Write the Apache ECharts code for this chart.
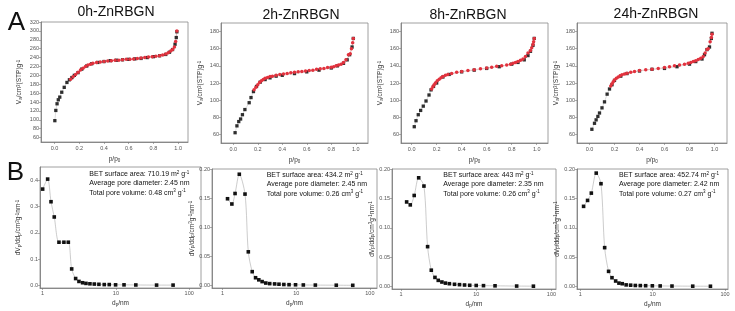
<!DOCTYPE html>
<html>
<head>
<meta charset="utf-8">
<script src="https://cdn.jsdelivr.net/npm/echarts@6/dist/echarts.min.js"></script>
<style>
  html, body { margin: 0; padding: 0; background: #fff; }
  #chart { width: 735px; height: 311px; }
</style>
</head>
<body>
<div id="chart"></div>
<script>
// sample names
const titles = ['0h-ZnRBGN', '2h-ZnRBGN', '8h-ZnRBGN', '24h-ZnRBGN'];

// N2 isotherms: adsorption (black) / desorption (red)
const ads0hP = [0.002, 0.01, 0.02, 0.03, 0.042, 0.058, 0.078, 0.1, 0.12, 0.14, 0.16, 0.19, 0.22, 0.26, 0.3, 0.35, 0.4, 0.45, 0.5, 0.55, 0.6, 0.65, 0.7, 0.75, 0.8, 0.85, 0.9, 0.93, 0.955, 0.975, 0.985, 0.99];
const ads0hV = [98, 121, 136, 145, 151, 162, 173, 184, 190, 195, 200, 206, 214, 221, 226, 229, 231, 233, 234, 235, 236, 237, 238, 240, 242, 244, 247, 252, 258, 270, 285, 298];
const des0hP = [0.99, 0.98, 0.97, 0.955, 0.94, 0.92, 0.9, 0.875, 0.85, 0.82, 0.79, 0.76, 0.73, 0.7, 0.67, 0.64, 0.61, 0.58, 0.55, 0.52, 0.49, 0.46, 0.43, 0.4, 0.37, 0.34, 0.31, 0.29, 0.27, 0.25, 0.23, 0.21, 0.19, 0.17, 0.15, 0.13];
const des0hV = [300, 276, 264, 258, 255, 251, 248, 246, 244, 243, 242, 241, 240, 239, 238, 237, 236, 236, 235, 234, 234, 233, 232, 231, 230, 229, 227, 225, 223, 220, 216, 212, 207, 202, 197, 191];

const ads2hP = [0.015, 0.03, 0.045, 0.06, 0.075, 0.095, 0.13, 0.145, 0.165, 0.19, 0.22, 0.26, 0.3, 0.35, 0.4, 0.5, 0.6, 0.7, 0.8, 0.85, 0.9, 0.93, 0.95, 0.97, 0.98];
const ads2hV = [62, 70, 75, 78, 83, 89, 97, 103, 110, 116, 121, 124, 126, 128, 129, 131, 133, 135, 137.5, 140, 143, 147, 153, 162, 172];
const des2hP = [0.98, 0.975, 0.965, 0.955, 0.94, 0.92, 0.9, 0.88, 0.86, 0.84, 0.82, 0.8, 0.77, 0.74, 0.71, 0.68, 0.65, 0.62, 0.59, 0.56, 0.53, 0.5, 0.47, 0.44, 0.41, 0.38, 0.35, 0.32, 0.3, 0.28, 0.26, 0.245, 0.23, 0.215, 0.2, 0.185, 0.17];
const des2hV = [172, 167, 160, 154, 153, 147, 144, 142, 141, 140, 139, 138.5, 138, 137, 136.5, 136, 135, 134.5, 134, 133.5, 133, 132.5, 132, 131, 130.5, 130, 129, 128, 127.5, 126.5, 125.5, 124, 122.5, 120.5, 118, 115, 112];

const ads8hP = [0.021, 0.035, 0.053, 0.072, 0.093, 0.115, 0.139, 0.155, 0.175, 0.2, 0.25, 0.3, 0.4, 0.5, 0.6, 0.7, 0.8, 0.85, 0.9, 0.93, 0.95, 0.97, 0.98];
const ads8hV = [69, 76, 83, 88, 93, 99, 106, 112, 116, 120, 127, 130, 133, 135, 137, 139, 142, 144, 147, 152, 157, 164, 172];
const des8hP = [0.98, 0.975, 0.97, 0.96, 0.95, 0.93, 0.91, 0.89, 0.87, 0.85, 0.83, 0.81, 0.79, 0.76, 0.72, 0.68, 0.64, 0.6, 0.55, 0.5, 0.45, 0.4, 0.36, 0.32, 0.29, 0.27, 0.25, 0.235, 0.22, 0.205, 0.19, 0.18, 0.17, 0.16];
const des8hV = [172, 168, 165, 161, 158, 155, 151, 148, 146.5, 145, 144, 143, 142, 141, 140, 139.5, 138.5, 137.5, 136.5, 135.5, 134.5, 133.5, 132.5, 131, 130, 129, 127.5, 126, 124.5, 122.5, 120, 118, 115.5, 113];

const ads24hP = [0.019, 0.04, 0.053, 0.067, 0.08, 0.1, 0.12, 0.141, 0.16, 0.18, 0.2, 0.25, 0.3, 0.4, 0.5, 0.6, 0.7, 0.8, 0.85, 0.9, 0.92, 0.94, 0.96, 0.975, 0.98];
const ads24hV = [66, 73, 77, 81, 85, 91, 98, 107, 113, 118, 123, 128, 131, 134, 136, 137, 139, 142, 145, 148, 153, 159, 162, 172, 178];
const des24hP = [0.98, 0.975, 0.965, 0.95, 0.94, 0.925, 0.91, 0.89, 0.87, 0.85, 0.83, 0.81, 0.79, 0.76, 0.72, 0.68, 0.64, 0.6, 0.55, 0.5, 0.45, 0.4, 0.36, 0.33, 0.3, 0.28, 0.26, 0.245, 0.23, 0.215, 0.2, 0.19, 0.18, 0.17];
const des24hV = [177, 173, 168, 160, 159, 155, 151, 149, 147.5, 146, 145, 144, 143, 142, 141, 140, 139, 138, 137, 136, 135.5, 134.5, 133.5, 132.5, 131.5, 130.5, 129.5, 128.5, 127, 125.5, 123.5, 121.5, 119, 116.5];

// pore size distributions
const d0h = [1.0, 1.17, 1.3, 1.44, 1.67, 1.95, 2.24, 2.49, 2.82, 3.13, 3.51, 3.9, 4.42, 5.07, 5.86, 6.93, 8.11, 9.9, 12.9, 18.7, 35.9, 60.3];
const dv0h = [0.366, 0.404, 0.318, 0.26, 0.164, 0.164, 0.164, 0.0625, 0.026, 0.015, 0.01, 0.0075, 0.006, 0.005, 0.004, 0.003, 0.003, 0.002, 0.002, 0.0015, 0.001, 0.001];
const d2h = [1.17, 1.34, 1.48, 1.69, 2.02, 2.24, 2.53, 2.81, 3.11, 3.45, 3.87, 4.37, 5.1, 5.84, 6.8, 8.0, 9.8, 12.5, 18.2, 35, 58.6];
const dv2h = [0.149, 0.14, 0.158, 0.191, 0.157, 0.058, 0.024, 0.0136, 0.01, 0.007, 0.0045, 0.0035, 0.003, 0.0025, 0.002, 0.0017, 0.0015, 0.0012, 0.001, 0.0008, 0.0006];
const d8h = [1.19, 1.33, 1.5, 1.72, 2.02, 2.26, 2.53, 2.83, 3.13, 3.5, 3.9, 4.4, 5.15, 6.0, 7.0, 8.2, 10, 12.5, 17.8, 34.5, 57.6];
const dv8h = [0.144, 0.139, 0.155, 0.185, 0.171, 0.068, 0.028, 0.0157, 0.0107, 0.0079, 0.006, 0.005, 0.004, 0.0034, 0.0028, 0.0023, 0.002, 0.0017, 0.0014, 0.001, 0.0008];
const d24h = [1.11, 1.26, 1.42, 1.66, 1.93, 2.17, 2.46, 2.74, 3.08, 3.42, 3.8, 4.3, 4.96, 5.76, 6.75, 8.0, 9.9, 12.7, 18.5, 35.8, 62.9];
const dv24h = [0.1365, 0.1466, 0.159, 0.193, 0.175, 0.0663, 0.026, 0.0152, 0.0096, 0.006, 0.005, 0.003, 0.0025, 0.002, 0.0018, 0.0016, 0.0014, 0.0012, 0.001, 0.0008, 0.0007];

// BET results
const betArea = ['710.19', '434.2', '443', '452.74'];
const poreDia = ['2.45', '2.45', '2.35', '2.42'];
const poreVol = ['0.48', '0.26', '0.26', '0.27'];

// tick labels
const isoXTicks = [0, 0.2, 0.4, 0.6, 0.8, 1.0];
const isoYTicks0h = [60, 80, 100, 120, 140, 160, 180, 200, 220, 240, 260, 280, 300, 320];
const isoYTicks = [60, 80, 100, 120, 140, 160, 180];
const psdXTicks = [1, 10, 100];
const psdYTicks0h = [0, 0.1, 0.2, 0.3, 0.4];
const psdYTicks = [0, 0.05, 0.1, 0.15, 0.2];

const FONT = 'Liberation Sans';
const pairs = (a, b) => a.map((x, i) => [x, b[i]]);

const isoSets = [
  [ads0hP, ads0hV, des0hP, des0hV],
  [ads2hP, ads2hV, des2hP, des2hV],
  [ads8hP, ads8hV, des8hP, des8hV],
  [ads24hP, ads24hV, des24hP, des24hV]
];
const psdSets = [[d0h, dv0h], [d2h, dv2h], [d8h, dv8h], [d24h, dv24h]];

// layout (px)
const gridsA = [
  { left: 41, top: 22, width: 147, height: 120 },
  { left: 221, top: 23, width: 147, height: 120 },
  { left: 401, top: 23, width: 147, height: 120 },
  { left: 577, top: 23, width: 150, height: 120 }
];
const gridsB = [
  { left: 40, top: 167, width: 161, height: 121 },
  { left: 212, top: 169, width: 165, height: 119 },
  { left: 392, top: 169, width: 164, height: 120 },
  { left: 577, top: 169, width: 151, height: 120 }
];
const xRangeA = [[-0.11, 1.08], [-0.1, 1.1], [-0.085, 1.09], [-0.1, 1.1]];
const xRangeB = [[0.92, 145], [0.72, 125], [0.76, 115], [0.9, 110]];
const yGapA = [18, 17, 17, 17];
const yGapB = [18, 16, 16, 16];

const rich = {
  n: { fontSize: 6.5, lineHeight: 7, fontFamily: FONT, color: '#333' },
  s: { fontSize: 4.5, lineHeight: 4, verticalAlign: 'bottom', fontFamily: FONT, color: '#333' },
  p: { fontSize: 4.5, lineHeight: 4, verticalAlign: 'top', fontFamily: FONT, color: '#333' }
};

function axisBase(gi) {
  return {
    gridIndex: gi,
    axisLine: { show: true, onZero: false, lineStyle: { color: '#777', width: 0.8 } },
    axisTick: { show: true, length: 2, lineStyle: { color: '#777', width: 0.6 } },
    axisLabel: { fontSize: 5.5, color: '#555', margin: 2, fontFamily: FONT, showMinLabel: true, showMaxLabel: true },
    splitLine: { show: false },
    nameLocation: 'middle',
    nameTextStyle: { rich: rich }
  };
}

const grid = [];
const xAxis = [];
const yAxis = [];
const series = [];

gridsA.forEach((g, i) => {
  grid.push(Object.assign({ show: true, borderColor: '#888', borderWidth: 0.8 }, g));
  const xa = axisBase(i);
  Object.assign(xa, {
    type: 'value', min: xRangeA[i][0], max: xRangeA[i][1],
    name: '{n|p/p}{s|0}', nameGap: 14
  });
  xa.axisLabel.margin = 3.5;
  xa.axisLabel.customValues = isoXTicks;
  xa.axisLabel.formatter = v => v.toFixed(1);
  xa.axisTick.customValues = isoXTicks;
  xAxis.push(xa);
  const ya = axisBase(i);
  const yt = i === 0 ? isoYTicks0h : isoYTicks;
  Object.assign(ya, {
    type: 'value', min: 50, max: i === 0 ? 320 : 190,
    name: '{n|V}{s|a}{n|/cm}{p|3}{n|(STP)g}{p|-1}', nameGap: yGapA[i]
  });
  ya.axisLabel.customValues = yt;
  ya.axisTick.customValues = yt;
  yAxis.push(ya);
  const s = isoSets[i];
  series.push({
    type: 'line', xAxisIndex: i, yAxisIndex: i, data: pairs(s[0], s[1]),
    symbol: 'rect', symbolSize: 3.3, showAllSymbol: true,
    itemStyle: { color: '#2e2e2e' }, lineStyle: { color: '#bbb', width: 0.5 }
  });
  series.push({
    type: 'line', xAxisIndex: i, yAxisIndex: i, data: pairs(s[2], s[3]),
    symbol: 'circle', symbolSize: 3.5, showAllSymbol: true,
    itemStyle: { color: '#e2323e' }, lineStyle: { color: '#f0a0a0', width: 0.5 }
  });
});

gridsB.forEach((g, j) => {
  const i = j + 4;
  grid.push(Object.assign({ show: true, borderColor: '#888', borderWidth: 0.8 }, g));
  const xa = axisBase(i);
  Object.assign(xa, {
    type: 'log', logBase: 10, min: xRangeB[j][0], max: xRangeB[j][1],
    name: '{n|d}{s|p}{n|/nm}', nameGap: 12
  });
  xa.axisLabel.customValues = psdXTicks;
  xa.axisLabel.formatter = v => String(Math.round(v));
  xa.axisTick.customValues = psdXTicks;
  xAxis.push(xa);
  const ya = axisBase(i);
  const yt = j === 0 ? psdYTicks0h : psdYTicks;
  Object.assign(ya, {
    type: 'value', min: j === 0 ? -0.01 : -0.004, max: j === 0 ? 0.45 : 0.2,
    name: '{n|dV}{s|p}{n|/dd}{s|p}{n|/cm}{p|3}{n|g}{p|-1}{n|nm}{p|-1}', nameGap: yGapB[j]
  });
  ya.axisLabel.customValues = yt;
  ya.axisLabel.formatter = v => v.toFixed(j === 0 ? 1 : 2);
  ya.axisTick.customValues = yt;
  yAxis.push(ya);
  series.push({
    type: 'line', xAxisIndex: i, yAxisIndex: i, data: pairs(psdSets[j][0], psdSets[j][1]),
    symbol: 'rect', symbolSize: 3.6, showAllSymbol: true, smooth: 0.3,
    itemStyle: { color: '#111' }, lineStyle: { color: '#aaa', width: 0.6 }
  });
});

// texts
const graphic = [];
function addText(x, y, text, size, align, extra) {
  graphic.push({
    type: 'text', x: x, y: y,
    style: Object.assign({
      text: text, fill: '#111', fontSize: size, fontFamily: FONT,
      align: align, textAlign: align, verticalAlign: 'middle', textVerticalAlign: 'middle'
    }, extra || {})
  });
}
addText(16.5, 22.5, 'A', 26, 'center');
addText(15.5, 172.5, 'B', 26, 'center');
const titlePos = [[116, 12.5], [301, 15], [468, 14.7], [656, 13.8]];
titles.forEach((t, i) => addText(titlePos[i][0], titlePos[i][1], t, 14, 'center'));

const infoRich = {
  n: { fontSize: 7, lineHeight: 8, fontFamily: FONT, color: '#222' },
  p: { fontSize: 4.5, lineHeight: 5, verticalAlign: 'top', fontFamily: FONT, color: '#222' }
};
const infoPos = [[89.3, 174], [266.7, 175], [443.3, 175], [619, 175]];
betArea.forEach((a, i) => {
  const [x, y] = infoPos[i];
  addText(x, y, '{n|BET surface area: ' + a + ' m}{p|2}{n| g}{p|-1}', 7, 'left', { rich: infoRich });
  addText(x, y + 9.3, '{n|Average pore diameter: ' + poreDia[i] + ' nm}', 7, 'left', { rich: infoRich });
  addText(x, y + 18.6, '{n|Total pore volume: ' + poreVol[i] + ' cm}{p|3}{n| g}{p|-1}', 7, 'left', { rich: infoRich });
});

const chart = echarts.init(document.getElementById('chart'));
chart.setOption({
  animation: false,
  backgroundColor: '#fff',
  grid: grid,
  xAxis: xAxis,
  yAxis: yAxis,
  series: series,
  graphic: graphic
});
</script>
</body>
</html>
